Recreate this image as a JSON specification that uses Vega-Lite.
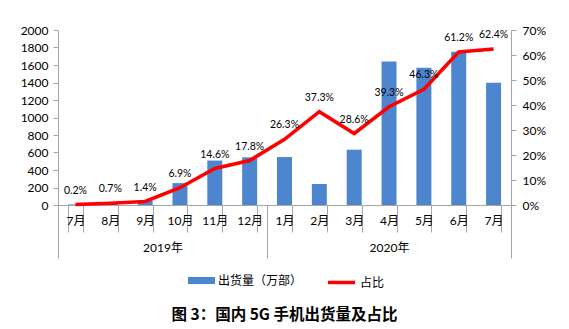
{
  "$schema": "https://vega.github.io/schema/vega-lite/v6.json",
  "width": 453,
  "height": 175,
  "autosize": "none",
  "padding": {"left": 58, "top": 30, "right": 58, "bottom": 124},
  "background": "white",
  "config": {
    "font": "Lato, 'Noto Sans CJK SC'",
    "view": {"stroke": null},
    "axis": {"labelFont": "Lato, 'Noto Sans CJK SC'", "labelFontSize": 12, "labelColor": "#000000", "domainColor": "#a6a6a6", "tickColor": "#a6a6a6", "grid": false, "title": null},
    "legend": {"padding": 0, "labelFont": "Noto Sans CJK SC", "labelFontSize": 12, "labelColor": "#000000", "title": null}
  },
  "title": {"text": "图 3：国内 5G 手机出货量及占比", "orient": "bottom", "anchor": "middle", "offset": 18, "font": "Noto Sans CJK SC", "fontSize": 15.5, "fontWeight": "bold", "color": "#000000"},
  "datasets": {
    "main": [
      {"k": "2019-07", "qty": 6, "share": 0.2, "lbl": "0.2%"},
      {"k": "2019-08", "qty": 21, "share": 0.7, "lbl": "0.7%"},
      {"k": "2019-09", "qty": 50, "share": 1.4, "lbl": "1.4%"},
      {"k": "2019-10", "qty": 250, "share": 6.9, "lbl": "6.9%"},
      {"k": "2019-11", "qty": 508, "share": 14.6, "lbl": "14.6%"},
      {"k": "2019-12", "qty": 545, "share": 17.8, "lbl": "17.8%"},
      {"k": "2020-01", "qty": 548, "share": 26.3, "lbl": "26.3%"},
      {"k": "2020-02", "qty": 240, "share": 37.3, "lbl": "37.3%"},
      {"k": "2020-03", "qty": 632, "share": 28.6, "lbl": "28.6%"},
      {"k": "2020-04", "qty": 1640, "share": 39.3, "lbl": "39.3%"},
      {"k": "2020-05", "qty": 1570, "share": 46.3, "lbl": "46.3%"},
      {"k": "2020-06", "qty": 1752, "share": 61.2, "lbl": "61.2%"},
      {"k": "2020-07", "qty": 1396, "share": 62.4, "lbl": "62.4%"}
    ],
    "years": [{"p": 0}, {"p": 13}]
  },
  "layer": [
    {
      "data": {"name": "main"},
      "encoding": {
        "x": {"field": "k", "type": "ordinal", "sort": null,
          "scale": {"paddingInner": 0.57, "paddingOuter": 0.285},
          "axis": {"orient": "bottom", "ticks": true, "tickBand": "extent", "tickSize": 27, "labelPadding": -17, "labelAngle": 0,
            "labelExpr": "datum.value ? toNumber(split(datum.value, '-')[1]) + '月' : ''"}}
      },
      "layer": [
        {
          "mark": {"type": "bar"},
          "encoding": {
            "y": {"field": "qty", "type": "quantitative", "scale": {"domain": [0, 2000]},
              "axis": {"orient": "left", "values": [0, 200, 400, 600, 800, 1000, 1200, 1400, 1600, 1800, 2000], "format": "d", "tickSize": 5, "labelPadding": 5}},
            "fill": {"datum": "出货量（万部）", "scale": {"range": ["#4e85cf"]},
              "legend": {"orient": "none", "legendX": 130, "legendY": 237, "symbolType": "M-1,-0.26L1,-0.26L1,0.26L-1,0.26Z", "symbolSize": 729, "symbolStrokeWidth": 0, "labelOffset": 3}}
          }
        },
        {
          "encoding": {
            "y": {"field": "share", "type": "quantitative", "scale": {"domain": [0, 70]},
              "axis": {"orient": "right", "values": [0, 10, 20, 30, 40, 50, 60, 70], "tickSize": 5, "labelPadding": 6, "labelExpr": "datum.value + '%'"}}
          },
          "layer": [
            {
              "mark": {"type": "line", "strokeWidth": 3.5},
              "encoding": {
                "stroke": {"datum": "占比", "scale": {"range": ["#ff0000"]},
                  "legend": {"orient": "none", "legendX": 268, "legendY": 237, "symbolType": "stroke", "symbolSize": 729, "symbolStrokeWidth": 3.5, "labelOffset": 3}}
              }
            },
            {
              "mark": {"type": "text", "dy": -14, "fontSize": 10.5, "font": "Lato", "color": "#000000"},
              "encoding": {"text": {"field": "lbl"}}
            }
          ]
        }
      ],
      "resolve": {"scale": {"y": "independent"}}
    },
    {
      "data": {"name": "years"},
      "mark": {"type": "point", "opacity": 0},
      "encoding": {
        "x": {"field": "p", "type": "quantitative", "scale": {"domain": [0, 13], "nice": false, "zero": false},
          "axis": {"orient": "bottom", "values": [0, 3, 6, 9.5, 13], "tickSize": 53, "domain": false,
            "tickOpacity": {"condition": {"test": "datum.value == 3 || datum.value == 9.5", "value": 0}, "value": 1},
            "labelExpr": "datum.value == 3 ? '2019年' : datum.value == 9.5 ? '2020年' : ''",
            "labelPadding": -16, "labelFlush": false, "labelOverlap": false, "labelBound": false}}
      }
    }
  ],
  "resolve": {"scale": {"x": "independent", "y": "independent"}}
}
